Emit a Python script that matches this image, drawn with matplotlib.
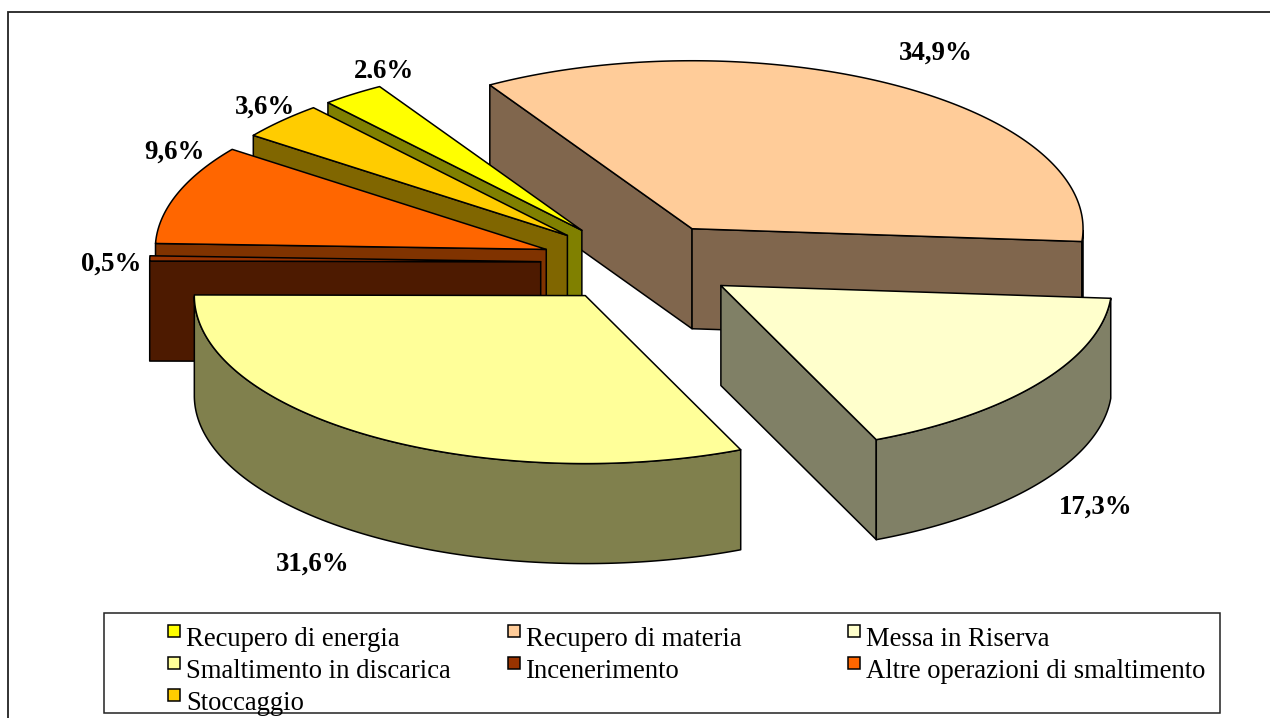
import numpy as np
import matplotlib
matplotlib.use("Agg")
import matplotlib.pyplot as plt
from matplotlib.patches import Polygon, Rectangle
from matplotlib.colors import to_rgb

categories = ["Recupero di energia", "Recupero di materia", "Messa in Riserva",
              "Smaltimento in discarica", "Incenerimento",
              "Altre operazioni di smaltimento", "Stoccaggio"]
values = [2.6, 34.9, 17.3, 31.6, 0.5, 9.6, 3.6]
value_labels = ["2,6%", "34,9%", "17,3%", "31,6%", "0,5%", "9,6%", "3,6%"]
colors = ["#FFFF00", "#FFCC99", "#FFFFCC", "#FFFF99", "#993300", "#FF6600", "#FFCC00"]

# pie layout (pixels)
CX, CY, A, B = 640.0, 262.5, 391.0, 168.0
DEPTH, EXPLODE_X, EXPLODE_Y, START = 100.0, 0.254, 0.236, 130.5
label_pos = [(384, 71), (936, 53), (1096, 507), (313, 564), (111, 264), (174, 152), (265, 107)]
draw_order = [1, 0, 6, 5, 4, 2, 3]
EC = "#000000"
LW = 1.1

plt.rcParams["font.family"] = ["Liberation Serif", "DejaVu Serif"]
fig = plt.figure(figsize=(12.70, 7.18), dpi=100)
ax = fig.add_axes([0, 0, 1, 1])
ax.set_xlim(0, 1270)
ax.set_ylim(718, 0)
ax.axis("off")

# outer chart frame (runs off the right and bottom of the image)
ax.add_patch(Rectangle((8, 12), 1400, 900, fc="white", ec="#222222", lw=1.3, zorder=0))

# data labels sit under the slices, as in the reference
for k, (t, (x, y)) in enumerate(zip(value_labels, label_pos)):
    txt = ax.text(x, y, t, fontsize=19.4, fontweight="bold", ha="center", va="center", zorder=1)
    if k == 0:  # the reference cuts this label off just under its digits
        txt.set_clip_path(Rectangle((300, 40), 200, 38, transform=ax.transData))
        txt.set_clip_on(True)

spans = np.array(values) / sum(values) * 360.0
ends = START - np.cumsum(spans)
starts = ends + spans


def darker(c):
    return tuple(v * 0.5 for v in to_rgb(c))


def pt(ox, oy, deg):
    r = np.radians(deg)
    return ox + A * np.cos(r), oy - B * np.sin(r)


z = 2
for i in draw_order:
    hi, lo = starts[i], ends[i]
    mid = np.radians((hi + lo) / 2)
    ox = CX + EXPLODE_X * A * np.cos(mid)
    oy = CY - EXPLODE_Y * B * np.sin(mid)
    side = darker(colors[i])
    # radial walls facing the viewer
    for deg, visible in ((hi, np.cos(np.radians(hi)) < 0), (lo, np.cos(np.radians(lo)) > 0)):
        if visible:
            px, py = pt(ox, oy, deg)
            ax.add_patch(Polygon([(ox, oy), (px, py), (px, py + DEPTH), (ox, oy + DEPTH)],
                                 fc=side, ec=EC, lw=LW, joinstyle="round", zorder=z))
            z += 1
    # outer curved wall: the part of the arc on the near side
    t = np.linspace(lo, hi, 200)
    near = t[np.sin(np.radians(t)) <= 0]
    if near.size > 1:
        xs, ys = pt(ox, oy, near)
        ax.add_patch(Polygon(np.r_[np.c_[xs, ys], np.c_[xs[::-1], ys[::-1] + DEPTH]],
                             fc=side, ec=EC, lw=LW, joinstyle="round", zorder=z))
        z += 1
    # top face
    xs, ys = pt(ox, oy, t)
    ax.add_patch(Polygon(np.r_[[(ox, oy)], np.c_[xs, ys]],
                         fc=colors[i], ec=EC, lw=LW, joinstyle="round", zorder=z))
    z += 1

# legend
ax.add_patch(Rectangle((104, 613), 1116, 99.5, fc="white", ec="#222222", lw=1.1, zorder=z))
z += 1
col_x = [168, 508, 848]
row_y = [646, 678, 710]
for k, (name, c) in enumerate(zip(categories, colors)):
    x = col_x[k % 3]
    y = row_y[k // 3]
    ax.add_patch(Rectangle((x, y - 21), 12, 12, fc=c, ec=EC, lw=1.1, zorder=z))
    ax.text(x + 18, y, name, fontsize=19.2, ha="left", va="baseline", zorder=z)

fig.savefig("out.png", dpi=100)
